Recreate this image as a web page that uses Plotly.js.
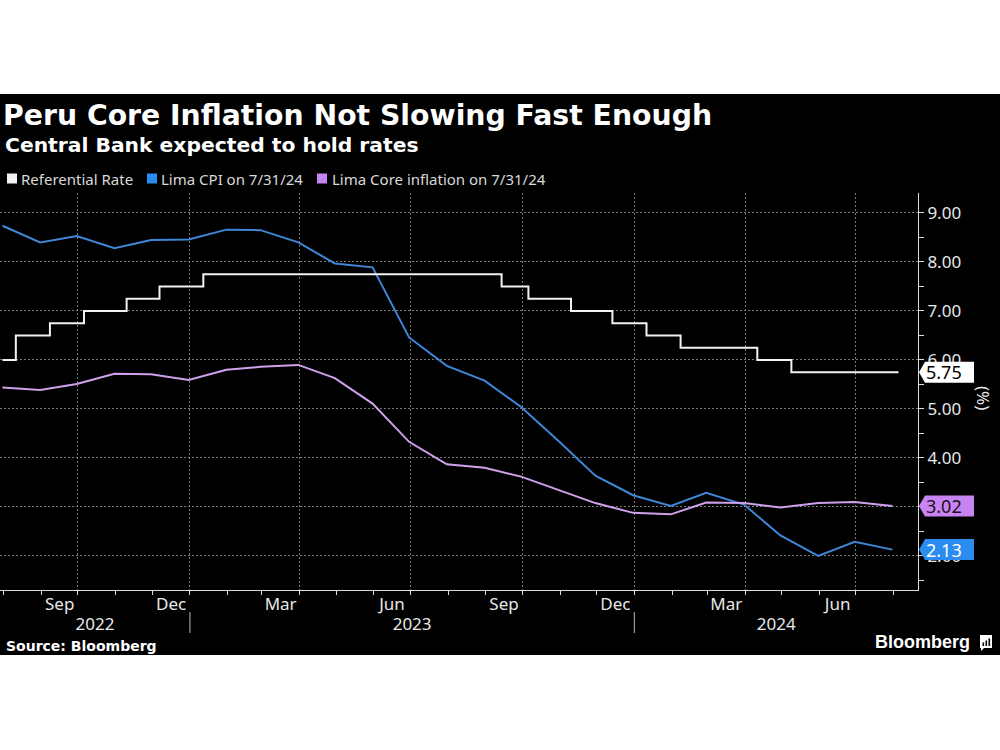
<!DOCTYPE html>
<html>
<head>
<meta charset="utf-8">
<script src="https://cdn.plot.ly/plotly-3.0.1.min.js"></script>
<style>html,body{margin:0;padding:0;background:#fff;}#chart{width:1000px;height:750px;}</style>
</head>
<body>
<div id="chart"></div>
<script>
// ---------- data ----------
const monthEnds = ['2022-07-31','2022-08-31','2022-09-30','2022-10-31','2022-11-30','2022-12-31',
  '2023-01-31','2023-02-28','2023-03-31','2023-04-30','2023-05-31','2023-06-30','2023-07-31',
  '2023-08-31','2023-09-30','2023-10-31','2023-11-30','2023-12-31','2024-01-31','2024-02-29',
  '2024-03-31','2024-04-30','2024-05-31','2024-06-30','2024-07-31'];
const limaCPI = [8.74,8.40,8.53,8.28,8.45,8.46,8.66,8.65,8.40,7.97,7.89,6.46,5.88,
  5.58,5.04,4.34,3.64,3.24,3.02,3.29,3.05,2.42,2.00,2.29,2.13];
const limaCore = [5.44,5.39,5.51,5.72,5.71,5.59,5.80,5.86,5.90,5.63,5.11,4.33,3.87,
  3.80,3.62,3.34,3.08,2.88,2.85,3.09,3.08,2.99,3.08,3.10,3.02];
const rateDates = ['2022-07-31','2022-08-11','2022-09-08','2022-10-06','2022-11-10','2022-12-07',
  '2023-01-12','2023-09-14','2023-10-06','2023-11-10','2023-12-14','2024-01-11','2024-02-08',
  '2024-04-11','2024-05-09','2024-08-05'];
const rateValues = [6.00,6.50,6.75,7.00,7.25,7.50,7.75,7.50,7.25,7.00,6.75,6.50,6.25,6.00,5.75,5.75];

const seriesNames = ['Referential Rate','Lima CPI on 7/31/24','Lima Core inflation on 7/31/24'];
const monthLabels = ['Sep','Dec','Mar','Jun','Sep','Dec','Mar','Jun'];
const monthLabelMonths = ['2022-09','2022-12','2023-03','2023-06','2023-09','2023-12','2024-03','2024-06'];
const yearLabels = ['2022','2023','2024'];
const titleText = 'Peru Core Inflation Not Slowing Fast Enough';
const subtitleText = 'Central Bank expected to hold rates';
const sourceText = 'Source: Bloomberg';
const unitText = '(%)';

// ---------- styles ----------
const COL = {rate:'#f2f2f2', cpi:'#3f86d8', core:'#cfa0ec',
  cpiBox:'#2a8cf0', coreBox:'#c884f0', rateBox:'#ffffff',
  grid:'#7a7a7a', axis:'#dddddd', text:'#e8e8e8'};
const W = 1000, H = 750, M = {l:0, r:82, t:193, b:160};
const PW = W - M.l - M.r, PH = H - M.t - M.b;
const px = X => (X - M.l) / PW;
const py = Y => (H - M.b - Y) / PH;
const xRange = ['2022-07-29', '2024-08-21'];
const yRange = [1.306, 9.408];

const iso = ms => new Date(ms).toISOString().slice(0,19).replace('T',' ');
const ms = s => Date.parse(s + 'T00:00:00Z');
function monthMid(ym){
  const [y,m] = ym.split('-').map(Number);
  const a = Date.UTC(y, m-1, 1), b = Date.UTC(y, m, 1);
  return iso((a+b)/2);
}
const monthTickVals = monthLabelMonths.map(monthMid);
const r0 = ms(xRange[0]), r1 = ms(xRange[1]);
const yearTickVals = yearLabels.map(y => {
  const a = Math.max(Date.UTC(+y,0,1), r0), b = Math.min(Date.UTC(+y+1,0,1), r1);
  return iso((a+b)/2);
});
const yearBounds = yearLabels.slice(1).map(y => iso(Date.UTC(+y,0,1)));

// ---------- traces ----------
const traces = [
  {x: monthEnds, y: limaCPI, name: seriesNames[1], type:'scatter', mode:'lines',
   line:{color:COL.cpi, width:2}, hoverinfo:'skip'},
  {x: monthEnds, y: limaCore, name: seriesNames[2], type:'scatter', mode:'lines',
   line:{color:COL.core, width:2}, hoverinfo:'skip'},
  {x: rateDates, y: rateValues, name: seriesNames[0], type:'scatter', mode:'lines',
   line:{color:COL.rate, width:2, shape:'hv'}, hoverinfo:'skip'}
];
// transparent carriers so the overlay axes (grid, month labels, year labels) are drawn
['x2','x3','x4'].forEach(ax => traces.push({x: monthEnds, y: limaCPI, xaxis: ax, yaxis:'y',
  type:'scatter', mode:'lines', opacity:0, line:{width:0}, hoverinfo:'skip', showlegend:false}));

// ---------- shapes & annotations ----------
const shapes = [
  {type:'rect', xref:'paper', yref:'paper', x0:px(0), x1:px(1000), y0:py(94), y1:py(655),
   fillcolor:'#000000', line:{width:0}, layer:'below'}
];
yearBounds.forEach(d => shapes.push({type:'line', xref:'x', yref:'paper', x0:d, x1:d,
  y0:py(612), y1:py(633), line:{color:'#bbbbbb', width:1}}));

const annotations = [
  {text: subtitleText, xref:'paper', yref:'paper', x:px(3), y:py(144.5), xanchor:'left', yanchor:'middle',
   showarrow:false, font:{family:'DejaVu Sans', size:20.3, weight:'bold', color:'#ffffff'}},
  {text: sourceText, xref:'paper', yref:'paper', x:px(4), y:py(646), xanchor:'left', yanchor:'middle',
   showarrow:false, font:{family:'DejaVu Sans', size:14, weight:'bold', color:'#ffffff'}},
  {text: 'Bloomberg', xref:'paper', yref:'paper', x:px(873), y:py(642), xanchor:'left', yanchor:'middle',
   showarrow:false, font:{family:'Liberation Sans', size:18, weight:'bold', color:'#ffffff'}},
  {text: unitText, xref:'paper', yref:'paper', x:px(984), y:py(398), xanchor:'center', yanchor:'middle',
   textangle:90, showarrow:false, font:{family:'Noto Sans', size:17, color:COL.text}}
];

// legend (custom, square swatches)
const legendItems = [
  {name: seriesNames[0], color: COL.rate, sx: 7, tx: 19},
  {name: seriesNames[1], color: COL.cpiBox, sx: 147, tx: 159},
  {name: seriesNames[2], color: COL.coreBox, sx: 317, tx: 330}
];
legendItems.forEach(it => {
  shapes.push({type:'rect', xref:'paper', yref:'paper', x0:px(it.sx), x1:px(it.sx+10),
    y0:py(173.5), y1:py(183.5), fillcolor:it.color, line:{width:0}});
  annotations.push({text: it.name, xref:'paper', yref:'paper', x:px(it.tx), y:py(178.5),
    xanchor:'left', yanchor:'middle', showarrow:false,
    font:{family:'Noto Sans', size:15, color:'#d9d9d9'}});
});

// last-value tags
const tags = [
  {v: rateValues[rateValues.length-1], bg: COL.rateBox, fg:'#000000'},
  {v: limaCore[limaCore.length-1], bg: COL.coreBox, fg:'#1a0f22'},
  {v: limaCPI[limaCPI.length-1], bg: COL.cpiBox, fg:'#ffffff'}
];
tags.forEach(t => {
  shapes.push({type:'path', xref:'paper', yref:'y', xsizemode:'pixel', ysizemode:'pixel',
    xanchor:1, yanchor:t.v, path:'M1,0 L7,10.5 L56,10.5 L56,-10.5 L7,-10.5 Z',
    fillcolor:t.bg, line:{width:0}});
  annotations.push({text: t.v.toFixed(2), xref:'paper', yref:'y', x:1, xshift:6, y:t.v,
    xanchor:'left', yanchor:'middle', showarrow:false,
    font:{family:'Noto Sans', size:18, color:t.fg}});
});

// Bloomberg icon
shapes.push({type:'rect', xref:'paper', yref:'paper', x0:px(980), x1:px(992), y0:py(635), y1:py(648),
  fillcolor:'#ffffff', line:{width:0}});
shapes.push({type:'path', xref:'paper', yref:'paper',
  path:`M${px(981)},${py(647)} L${px(981)},${py(651)} L${px(985)},${py(647)} Z`, fillcolor:'#ffffff', line:{width:0}});
[[982.5,642.5],[985.5,640.5],[988.5,638.5]].forEach(([bx,by]) => shapes.push({type:'rect', xref:'paper', yref:'paper',
  x0:px(bx), x1:px(bx+1.6), y0:py(646), y1:py(by), fillcolor:'#000000', line:{width:0}}));

const tickFont = {family:'Noto Sans', size:17, color:COL.text};
const layout = {
  width:W, height:H, margin:M,
  paper_bgcolor:'#ffffff', plot_bgcolor:'rgba(0,0,0,0)',
  showlegend:false,
  title:{text:titleText, xref:'container', yref:'container', x:0.003, xanchor:'left',
    y:1 - 115/H, yanchor:'middle',
    font:{family:'DejaVu Sans', size:28.3, weight:'bold', color:'#ffffff'}},
  xaxis:{type:'date', range:xRange, showgrid:false, zeroline:false,
    showline:true, linecolor:COL.axis, linewidth:1,
    ticks:'outside', ticklen:4, tickcolor:COL.axis, tickwidth:1,
    tick0:'2022-08-01', dtick:'M1', showticklabels:false},
  xaxis2:{type:'date', range:xRange, overlaying:'x', anchor:'y', side:'bottom', showgrid:true,
    gridcolor:COL.grid, griddash:'2px,2px', gridwidth:1,
    tick0:'2022-10-01', dtick:'M3', ticks:'', showticklabels:false, showline:false, zeroline:false},
  xaxis3:{type:'date', range:xRange, overlaying:'x', anchor:'y', side:'bottom', showgrid:false,
    tickmode:'array', tickvals:monthTickVals, ticktext:monthLabels, ticks:'',
    tickfont:tickFont, showline:false, zeroline:false, ticklabelstandoff:2},
  xaxis4:{type:'date', range:xRange, overlaying:'x', anchor:'y', side:'bottom', showgrid:false,
    tickmode:'array', tickvals:yearTickVals, ticktext:yearLabels, ticks:'',
    tickfont:tickFont, showline:false, zeroline:false, ticklabelstandoff:22},
  yaxis:{side:'right', range:yRange, tick0:0, dtick:1, tickformat:'.2f',
    showgrid:true, gridcolor:COL.grid, griddash:'2px,2px', gridwidth:1, zeroline:false,
    showline:true, linecolor:COL.axis, linewidth:1,
    ticks:'outside', ticklen:5, tickcolor:COL.axis, tickwidth:1, tickfont:tickFont,
    minor:{tick0:0, dtick:0.5, ticks:'outside', ticklen:5, tickcolor:COL.axis, showgrid:false}},
  shapes:shapes, annotations:annotations
};
Plotly.newPlot('chart', traces, layout, {staticPlot:true, displayModeBar:false});
</script>
</body>
</html>
